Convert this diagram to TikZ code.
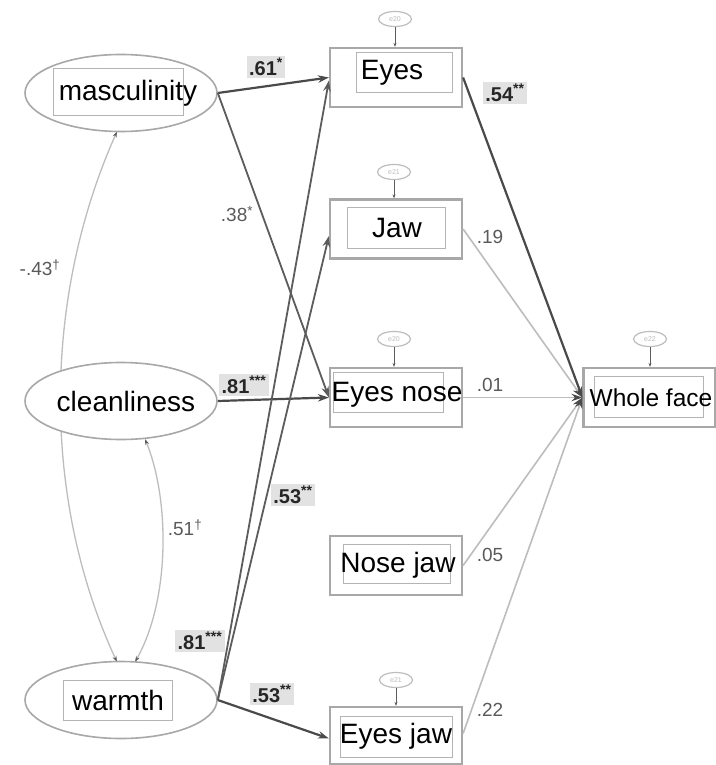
\documentclass[tikz,border=0pt]{standalone}
\usepackage{fontspec}
\setmainfont{Liberation Sans}
\usetikzlibrary{arrows.meta,shapes.geometric,calc}
\definecolor{darkline}{HTML}{4A4A4A}
\definecolor{medline}{HTML}{5C5C5C}
\definecolor{lightline}{HTML}{BDBDBD}
\definecolor{boxgray}{HTML}{A8A8A8}
\definecolor{innergray}{HTML}{B4B4B4}
\definecolor{labelbg}{HTML}{E2E2E2}
\definecolor{labeltext}{HTML}{5A5A5A}
\definecolor{errgray}{HTML}{BDBDBD}
\tikzset{
  latent/.style={ellipse, draw=boxgray, line width=1.6pt, fill=white, minimum width=192pt, minimum height=77pt, inner sep=0pt},
  observed/.style={rectangle, draw=boxgray, line width=2.2pt, fill=white, minimum width=132pt, minimum height=59pt, inner sep=0pt},
  innerbox/.style={rectangle, draw=innergray, line width=0.7pt, inner sep=0pt},
  vartext/.style={inner sep=0pt, font=\fontsize{28}{30}\selectfont},
  boldpath/.style={draw=darkline, line width=2.2pt, -{Stealth[length=11pt,width=7.5pt]}},
  medpath/.style={draw=medline, line width=1.8pt, -{Stealth[length=11pt,width=7.5pt]}},
  lightpath/.style={draw=lightline, line width=1.6pt, -{Stealth[length=11pt,width=7.5pt,color=darkline]}},
  covpath/.style={draw=lightline, line width=1.3pt, {Stealth[length=6pt,width=4pt,color=medline]}-{Stealth[length=6pt,width=4pt,color=medline]}},
  boldlabel/.style={fill=labelbg, inner sep=2.5pt, text=black!85, font=\bfseries\fontsize{20}{20}\selectfont},
  plainlabel/.style={inner sep=1pt, text=labeltext, font=\fontsize{19}{19}\selectfont},
  errnode/.style={ellipse, draw=errgray, line width=1.2pt, minimum width=33pt, minimum height=15pt, inner sep=0pt, text=errgray, font=\fontsize{7}{7}\selectfont},
  errpath/.style={draw=medline, line width=0.9pt, -{Stealth[length=4pt,width=3pt]}}
}
\begin{document}
\begin{tikzpicture}[x=1pt,y=-1pt]
\useasboundingbox[fill=white] (0,0) rectangle (715,765);

% covariance curves (drawn first, behind ellipses)
\coordinate (mascb) at (117,131.5);
\coordinate (warmtl) at (117,662);
\coordinate (cleanb) at (145,439);
\coordinate (warmtr) at (135,662);
\draw[covpath] (mascb) .. controls (42,300) and (42,500) .. (warmtl);
\draw[covpath] (cleanb) .. controls (170,500) and (170,600) .. (warmtr);

% latent variables
\node[latent] (masc) at (121,93) {};
\node[innerbox, minimum width=130pt, minimum height=47pt] (mascbox) at (118,91.5) {};
\node[vartext] (masctext) at (128,93) {masculinity};

\node[latent] (clean) at (121,401) {};
\node[vartext] (cleantext) at (126,401) {cleanliness};

\node[latent] (warm) at (121,700) {};
\node[innerbox, minimum width=109pt, minimum height=40pt] (warmbox) at (117.5,700) {};
\node[vartext] (warmtext) at (118,700) {warmth};

% observed variables
\node[observed] (eyes) at (396,77.5) {};
\node[innerbox, minimum width=96pt, minimum height=40pt] (eyesbox) at (404,72) {};
\node[vartext] (eyestext) at (392,73) {Eyes};

\node[observed] (jaw) at (396,229) {};
\node[innerbox, minimum width=98pt, minimum height=41pt] (jawbox) at (396,227.5) {};
\node[vartext] (jawtext) at (397,228) {Jaw};

\node[observed] (en) at (396,397.5) {};
\node[innerbox, minimum width=110pt, minimum height=40pt] (enbox) at (388,392) {};
\node[vartext] (entext) at (397,395) {Eyes nose};

\node[observed] (wf) at (649.5,397.5) {};
\node[innerbox, minimum width=109pt, minimum height=41pt] (wfbox) at (648.5,396.5) {};
\node[inner sep=0pt, font=\fontsize{24.5}{26}\selectfont] (wftext) at (651,398) {Whole face};

\node[observed] (nj) at (396,565.5) {};
\node[innerbox, minimum width=107pt, minimum height=39pt] (njbox) at (396.5,563.5) {};
\node[vartext] (njtext) at (398,565) {Nose jaw};

\node[observed, minimum height=57pt] (ej) at (396,735.5) {};
\node[innerbox, minimum width=112pt, minimum height=41pt] (ejbox) at (396,736.5) {};
\node[vartext] (ejtext) at (396,736) {Eyes jaw};

% error terms
\node[errnode] (e1) at (395,19) {e20};
\node[errnode] (e2) at (394,172) {e21};
\node[errnode] (e3) at (394,339) {e20};
\node[errnode] (e4) at (650,339) {e22};
\node[errnode] (e5) at (396,680) {e21};
\draw[errpath] (e1.south) -- (e1.south |- eyes.north);
\draw[errpath] (e2.south) -- (e2.south |- jaw.north);
\draw[errpath] (e3.south) -- (e3.south |- en.north);
\draw[errpath] (e4.south) -- (e4.south |- wf.north);
\draw[errpath] (e5.south) -- (e5.south |- ej.north);

% paths from latent to observed
\draw[boldpath] (masc.east) -- (eyes.west);
\draw[medpath] (masc.east) -- (en.west);
\draw[boldpath] (clean.east) -- (en.west);
\draw[medpath] (warm.east) -- ($(eyes.west)+(0,3)$);
\draw[medpath] (warm.east) -- ($(jaw.west)+(0,7)$);
\draw[boldpath] (warm.east) -- ($(ej.west)+(0,3)$);

% paths to whole face
\draw[boldpath] (eyes.east) -- (wf.west);
\draw[lightpath] (jaw.east) -- (wf.west);
\draw[lightpath] (en.east) -- (wf.west);
\draw[lightpath] (nj.east) -- (wf.west);
\draw[lightpath] ($(ej.east)+(0,-2)$) -- (wf.west);

% coefficient labels
\node[boldlabel] (l61) at (266,67) {.61\textsuperscript{*}};
\node[plainlabel] (l38) at (237,214) {.38\textsuperscript{*}};
\node[boldlabel] (l81a) at (244,385) {.81\textsuperscript{***}};
\node[boldlabel] (l53a) at (293,495) {.53\textsuperscript{**}};
\node[boldlabel] (l81b) at (200,641) {.81\textsuperscript{***}};
\node[boldlabel] (l53b) at (272,694) {.53\textsuperscript{**}};
\node[boldlabel] (l54) at (505,93) {.54\textsuperscript{**}};
\node[plainlabel] (l19) at (490,237) {.19};
\node[plainlabel] (l01) at (490,385) {.01};
\node[plainlabel] (l05) at (490,555) {.05};
\node[plainlabel] (l22) at (490,710) {.22};
\node[plainlabel] (l43) at (40,268) {-.43\textsuperscript{†}};
\node[plainlabel] (l51) at (185,528) {.51\textsuperscript{†}};
\end{tikzpicture}
\end{document}
